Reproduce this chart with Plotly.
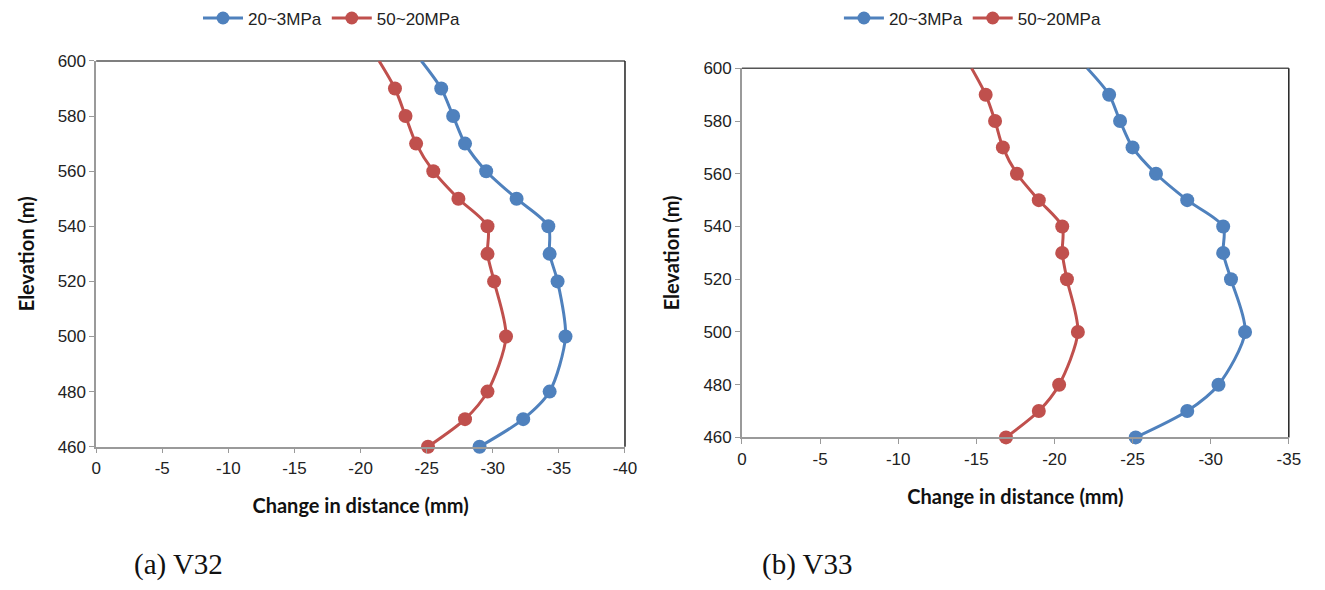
import plotly.graph_objects as go

# Elevation of each measuring point (m); the 600 m point is the line end without a marker
elev = [460, 470, 480, 500, 520, 530, 540, 550, 560, 570, 580, 590, 600]

# V32 change in distance (mm)
v32_low = [-29.0, -32.3, -34.3, -35.5, -34.9, -34.3, -34.2, -31.8, -29.5, -27.9, -27.0, -26.1, -24.6]
v32_high = [-25.1, -27.9, -29.6, -31.0, -30.1, -29.6, -29.6, -27.4, -25.5, -24.2, -23.4, -22.6, -21.4]

# V33 change in distance (mm)
v33_low = [-25.2, -28.5, -30.5, -32.2, -31.3, -30.8, -30.8, -28.5, -26.5, -25.0, -24.2, -23.5, -22.1]
v33_high = [-16.9, -19.0, -20.3, -21.5, -20.8, -20.5, -20.5, -19.0, -17.6, -16.7, -16.2, -15.6, -14.7]

series_names = ["20~3MPa", "50~20MPa"]
colors = ["#4F81BD", "#C0504D"]

x_ticks_a = [0, -5, -10, -15, -20, -25, -30, -35, -40]
x_ticks_b = [0, -5, -10, -15, -20, -25, -30, -35]
y_ticks = [460, 480, 500, 520, 540, 560, 580, 600]

marker_sizes = [14] * (len(elev) - 1) + [0]

fig = go.Figure()

panels = [
    ("x", "y", "legend", [v32_low, v32_high]),
    ("x2", "y2", "legend2", [v33_low, v33_high]),
]
for xa, ya, leg, data in panels:
    for name, col, vals in zip(series_names, colors, data):
        fig.add_trace(go.Scatter(
            x=vals, y=elev, name=name, xaxis=xa, yaxis=ya, legend=leg,
            mode="lines+markers",
            line=dict(color=col, width=3, shape="spline", smoothing=0.8),
            marker=dict(color=col, size=marker_sizes, opacity=1, line=dict(width=0)),
            cliponaxis=False,
        ))

tick_font = dict(family="Liberation Sans, Arial, sans-serif", size=17, color="#222")
title_font = dict(family="Lato, Open Sans, sans-serif", size=20, color="#111")
axis_common = dict(showgrid=False, zeroline=False, showline=True, linecolor="#9a9a9a",
                   linewidth=1.5, ticks="outside", ticklen=5, tickcolor="#9a9a9a",
                   tickfont=tick_font)


def hyphen_labels(vals):
    return [str(v) for v in vals]


fig.update_layout(
    width=1325, height=590,
    margin=dict(l=0, r=0, t=0, b=0),
    paper_bgcolor="white", plot_bgcolor="white",
    xaxis=dict(domain=[0.0697, 0.474], range=[0, -40], tickvals=x_ticks_a,
               ticktext=hyphen_labels(x_ticks_a),
               title=dict(text="<b>Change in distance (mm)</b>", font=title_font, standoff=22),
               anchor="y", **axis_common),
    yaxis=dict(domain=[0.2334, 0.909], range=[460, 600], tickvals=y_ticks,
               title=dict(text="<b>Elevation (m)</b>", font=title_font, standoff=18),
               anchor="x", **axis_common),
    xaxis2=dict(domain=[0.5634, 0.9815], range=[0, -35], tickvals=x_ticks_b,
                ticktext=hyphen_labels(x_ticks_b),
                title=dict(text="<b>Change in distance (mm)</b>", font=title_font, standoff=22),
                anchor="y2", **axis_common),
    yaxis2=dict(domain=[0.2497, 0.8961], range=[460, 600], tickvals=y_ticks,
                title=dict(text="<b>Elevation (m)</b>", font=title_font, standoff=18),
                anchor="x2", **axis_common),
    legend=dict(orientation="h", x=0.25, xanchor="center", y=1.015, yanchor="top",
                font=dict(family="Liberation Sans, Arial, sans-serif", size=17, color="#222"),
                itemwidth=40, tracegroupgap=0),
    legend2=dict(orientation="h", x=0.74, xanchor="center", y=1.015, yanchor="top",
                 font=dict(family="Liberation Sans, Arial, sans-serif", size=17, color="#222"),
                 itemwidth=40, tracegroupgap=0),
    showlegend=True,
)

# Dark frame on the top and right edges of each plot area
for xr, yr in [("x", "y"), ("x2", "y2")]:
    fig.add_shape(type="line", xref=f"{xr} domain", yref=f"{yr} domain",
                  x0=0, x1=1, y0=1, y1=1, line=dict(color="#555", width=1.5), layer="below")
    fig.add_shape(type="line", xref=f"{xr} domain", yref=f"{yr} domain",
                  x0=1, x1=1, y0=0, y1=1, line=dict(color="#222", width=1.5), layer="below")

caption_font = dict(family="Liberation Serif, Times New Roman, serif", size=29, color="#111")
fig.add_annotation(text="(a) V32", xref="paper", yref="paper", x=0.097, y=0.028,
                   xanchor="left", yanchor="middle", showarrow=False, font=caption_font)
fig.add_annotation(text="(b) V33", xref="paper", yref="paper", x=0.577, y=0.028,
                   xanchor="left", yanchor="middle", showarrow=False, font=caption_font)

fig.write_html("out.html")
